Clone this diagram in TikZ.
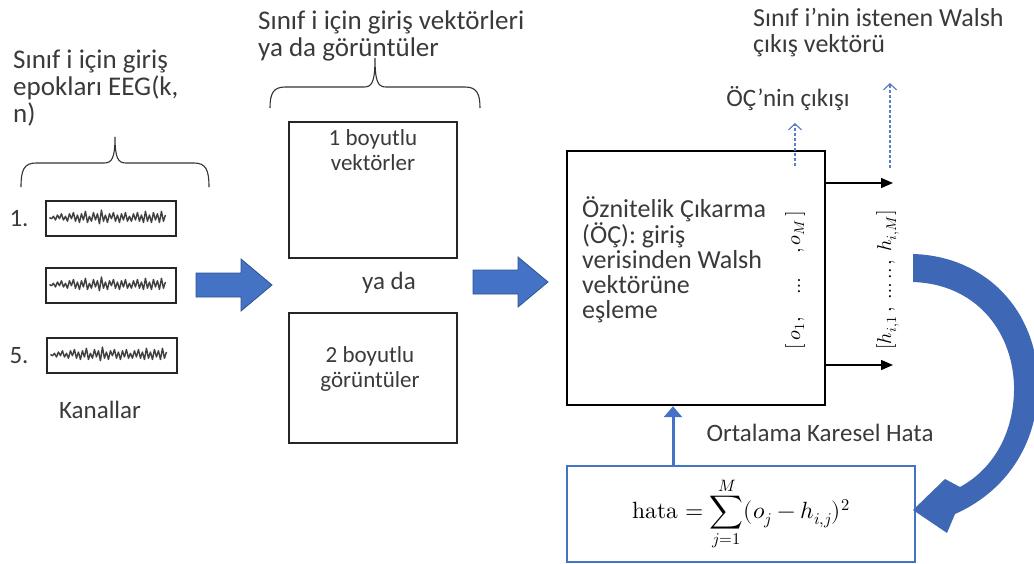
\documentclass[tikz,border=0pt]{standalone}
\usepackage{fontspec}
\usepackage{unicode-math}
\setmainfont{Carlito}
\setmathfont{Latin Modern Math}
\usetikzlibrary{arrows.meta}
\definecolor{txt}{HTML}{3A3A3A}
\definecolor{ofblue}{HTML}{4472C4}
\definecolor{ofblueD}{HTML}{2F528F}
\definecolor{curveblue}{HTML}{3E67B5}
\definecolor{dashblue}{HTML}{5A7EC6}

\tikzset{
  eegwave/.pic={
    \draw[line width=1.4pt, draw=black!75, line join=round]
      (0,0) \foreach \v [count=\i] in
      {1,-1,2,-2,1,-3,2,-1,3,-3,1,-4,3,-2,4,-3,2,-5,4,-1,3,-4,2,-3,5,-6,3,-2,4,-3,
       1,-4,3,-2,4,-3,2,-4,3,-1,3,-3,2,-4,3,-2,4,-5,3,-2,4,-4,2,-3,4,-5,3,-2}
      { -- (2*\i,1.25*\v) };
  }
}

\begin{document}
\begin{tikzpicture}[x=1pt,y=-1pt,
  lbl/.style={text=txt, inner sep=0pt, font=\fontsize{25}{27}\selectfont},
  title/.style={text=txt, inner sep=0pt, align=left, font=\fontsize{27}{27}\selectfont},
  smalltxt/.style={text=txt, inner sep=0pt, align=center, font=\fontsize{23}{25}\selectfont},
  eegbox/.style={draw=black!85, line width=1.1pt, minimum width=130pt, minimum height=35pt, inner sep=0pt},
  inbox/.style={draw=black!85, line width=1.1pt, inner sep=0pt},
  mainbox/.style={draw=black, line width=2.4pt, minimum width=258pt, minimum height=254pt, inner sep=0pt},
  errbox/.style={draw=ofblue, line width=2pt, minimum width=348pt, minimum height=96pt, inner sep=0pt,
    font=\fontsize{23.5}{27}\selectfont},
  blockarrow/.style={fill=ofblue, draw=ofblueD, line width=0.8pt, line join=miter},
  bracepath/.style={draw=black!80, line width=1.1pt},
  outarrow/.style={-{Triangle[length=12pt,width=10pt]}, line width=1.4pt, draw=black},
  dasharrow/.style={-{Straight Barb[length=6pt,width=13pt]}, dash pattern=on 3pt off 2pt, line width=1.2pt, draw=dashblue},
  fbarrow/.style={-{Triangle[length=11pt,width=18pt]}, line width=3pt, draw=ofblue},
  rotvec/.style={rotate=90, inner sep=0pt, font=\fontsize{20}{20}\selectfont}
]
\useasboundingbox (0,0) rectangle (1034,563);

% ---- input channels ----
\node[title, anchor=west] (ttl1) at (13,88) {Sınıf i için giriş\\epokları EEG(k,\\n)};
\draw[bracepath] (21,187) .. controls (21,170) and (24,163) .. (36,163) -- (104,163)
  .. controls (112,163) and (115,158) .. (115,137)
  .. controls (115,158) and (118,163) .. (126,163) -- (194,163)
  .. controls (206,163) and (209,170) .. (209,187);

\node[eegbox] (ch1) at (111,218.5) {};
\node[eegbox] (ch2) at (111,285.5) {};
\node[eegbox] (ch3) at (112,355.5) {};
\path (ch1.west) ++(4,-1) pic {eegwave};
\path (ch2.west) ++(4,-1) pic {eegwave};
\path (ch3.west) ++(4,-1) pic {eegwave};
\node[lbl] (n1) at (19,219) {1.};
\node[lbl] (n5) at (19,356) {5.};
\node[lbl] (kan) at (100,410) {Kanallar};

\draw[blockarrow] (196,273) -- (241,273) -- (241,259) -- (272,285) -- (241,311) -- (241,297) -- (196,297) -- cycle;

% ---- input vectors / images ----
\node[title, anchor=west] (ttl2) at (258,35.5) {Sınıf i için giriş vektörleri\\ya da görüntüler};
\draw[bracepath] (270,108) .. controls (270,94) and (273,87) .. (285,87) -- (364,87)
  .. controls (372,87) and (375,82) .. (375,58)
  .. controls (375,82) and (378,87) .. (386,87) -- (465,87)
  .. controls (477,87) and (480,94) .. (480,108);

\node[inbox, minimum width=168pt, minimum height=136pt] (v1) at (373,190) {};
\node[smalltxt] (v1t) at (373,150.5) {1 boyutlu\\vektörler};
\node[lbl] (yada) at (389,283) {ya da};
\node[inbox, minimum width=168pt, minimum height=130pt] (v2) at (373,378) {};
\node[smalltxt] (v2t) at (370,368.5) {2 boyutlu\\görüntüler};

\draw[blockarrow] (473,270) -- (518,270) -- (518,257) -- (548,282) -- (518,307) -- (518,294) -- (473,294) -- cycle;

% ---- feature extraction ----
\node[mainbox] (fe) at (696,278) {};
\node[title, anchor=west, font=\fontsize{26}{25}\selectfont] (fet) at (582,260)
  {Öznitelik Çıkarma\\(ÖÇ): giriş\\verisinden Walsh\\vektörüne\\eşleme};
\node[rotvec] (ovec) at (795,280) {$[\,o_1,\quad\dots\quad,o_M\,]$};
\node[rotvec] (hvec) at (888,280) {$[h_{i,1}\,,\ \ldots..\,,\ h_{i,M}]$};

\coordinate (o1) at (893,183);
\coordinate (o2) at (893,365);
\draw[outarrow] (fe.east |- o1) -- (o1);
\draw[outarrow] (fe.east |- o2) -- (o2);

\node[lbl] (fout) at (788,99) {ÖÇ’nin çıkışı};
\node[title, anchor=west, font=\fontsize{26}{26}\selectfont] (want) at (753,33) {Sınıf i’nin istenen Walsh\\çıkış vektörü};
\coordinate (d1s) at (795,166);
\coordinate (d1e) at (795,123);
\coordinate (d2s) at (890,168);
\coordinate (d2e) at (890,83);
\draw[dasharrow] (d1s) -- (d1e);
\draw[dasharrow] (d2s) -- (d2e);

% ---- error feedback ----
\node[errbox] (err) at (741,514) {$\displaystyle \symup{hata}=\sum_{j=1}^{M}(o_j-h_{i,j})^2$};
\node[lbl] (mse) at (820,433) {Ortalama Karesel Hata};
\coordinate (fbx) at (673,0);
\draw[fbarrow] (err.north -| fbx) -- (fe.south -| fbx);

% curved arrow from the desired vector to the error box
\fill[curveblue] (913,254) -- (913,282)
  .. controls (975,284) and (1012,330) .. (1014,385)
  .. controls (1015,430) and (995,468) .. (960,487)
  -- (945,479) -- (913,510) -- (947,533) -- (955,514)
  .. controls (1005,492) and (1038,445) .. (1038,385)
  .. controls (1038,310) and (985,256) .. (913,254) -- cycle;
\end{tikzpicture}
\end{document}
